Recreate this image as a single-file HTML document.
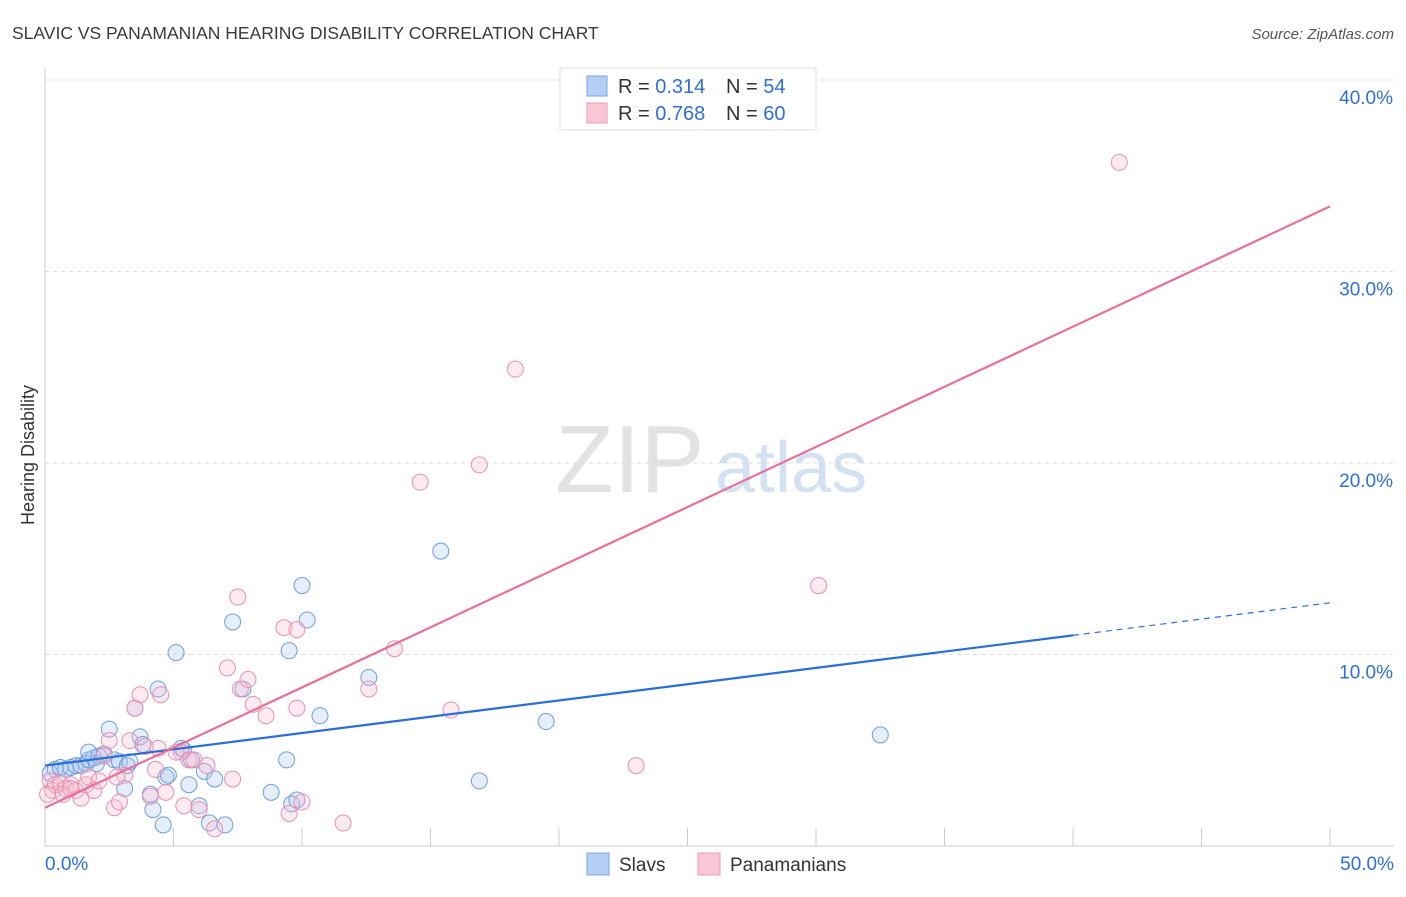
<!DOCTYPE html>
<html><head><meta charset="utf-8"><style>
body{margin:0;background:#fff;font-family:"Liberation Sans",sans-serif;}
svg text{font-family:"Liberation Sans",sans-serif;}
</style></head><body>
<svg id="c" width="1406" height="892" xmlns="http://www.w3.org/2000/svg">
<text x="12" y="39" font-size="17.5" fill="#3a3a3a">SLAVIC VS PANAMANIAN HEARING DISABILITY CORRELATION CHART</text>
<text x="1394" y="39" font-size="15" fill="#555" font-style="italic" text-anchor="end">Source: ZipAtlas.com</text>
<text x="555" y="492" font-size="96" fill="#e2e2e2" font-family="Liberation Serif">ZIP</text>
<text x="715" y="492" font-size="72" fill="#d3e1f3">atlas</text>
<text transform="translate(34,455) rotate(-90)" font-size="18" fill="#333" text-anchor="middle">Hearing Disability</text>
<g id="grid"></g><g id="pts"></g><g id="lines"></g>
<g>
<rect x="560" y="68" width="256" height="62" fill="#fff" stroke="#ddd"/>
<rect x="587" y="76" width="20" height="20" fill="#b6cff5" stroke="#7aa5e6"/>
<rect x="587" y="103" width="20" height="20" fill="#f9c6d6" stroke="#ef9ab5"/>
<text x="618" y="93" font-size="20" fill="#333">R = <tspan fill="#2f6fd6">0.314</tspan></text>
<text x="726" y="93" font-size="20" fill="#333">N = <tspan fill="#2f6fd6">54</tspan></text>
<text x="618" y="120" font-size="20" fill="#333">R = <tspan fill="#2f6fd6">0.768</tspan></text>
<text x="726" y="120" font-size="20" fill="#333">N = <tspan fill="#2f6fd6">60</tspan></text>
</g>
<g>
<rect x="587" y="853" width="22" height="22" fill="#b6cff5" stroke="#7aa5e6"/>
<text x="619" y="871" font-size="19" fill="#333">Slavs</text>
<rect x="698" y="853" width="22" height="22" fill="#f9c6d6" stroke="#ef9ab5"/>
<text x="730" y="871" font-size="19" fill="#333">Panamanians</text>
</g>
</svg>
<script>
const xTicks=[0,5,10,15,20,25,30,35,40,45,50];
const yTicks=[10,20,30,40];
const slavX=[0.2,0.4,0.6,0.8,1.0,1.2,1.4,1.6,1.7,1.9,2.1,2.3,2.5,2.7,2.9,3.1,3.2,3.5,3.7,3.8,4.1,4.2,4.4,4.6,4.7,4.8,5.1,5.3,5.6,5.7,6.2,6.4,6.6,7.0,7.3,7.7,8.8,9.4,9.5,9.6,9.8,10.0,10.2,10.7,12.6,15.4,16.9,19.5,32.5,2.0,1.7,3.3,5.4,6.0];
const slavY=[3.8,4.0,4.1,4.0,4.1,4.2,4.2,4.3,4.5,4.6,4.7,4.8,6.1,4.5,4.4,3.0,4.2,7.2,5.7,5.3,2.7,1.9,8.2,1.1,3.6,3.7,10.1,5.1,3.2,4.5,3.9,1.2,3.5,1.1,11.7,8.2,2.8,4.5,10.2,2.2,2.4,13.6,11.8,6.8,8.8,15.4,3.4,6.5,5.8,4.3,4.9,4.4,5.0,2.1];
const panX=[0.2,0.3,0.4,0.6,0.8,1.0,1.2,1.4,1.6,1.7,1.9,2.1,2.3,2.5,2.7,2.9,3.1,3.3,3.5,3.7,3.9,4.1,4.3,4.4,4.5,4.7,5.3,5.4,5.6,6.0,6.3,6.6,7.1,7.3,7.5,7.6,7.9,8.1,8.6,9.3,9.5,9.8,9.8,10.0,11.6,12.6,13.6,14.6,15.8,16.9,18.3,23.0,30.1,41.8,0.1,0.7,1.0,2.8,5.1,5.8];
const panY=[3.4,2.9,3.2,3.3,3.0,3.2,2.9,2.5,3.2,3.6,2.9,3.4,4.7,5.5,2.0,2.3,3.7,5.5,7.2,7.9,5.2,2.6,4.0,5.1,7.9,2.8,4.9,2.1,4.5,1.9,4.2,0.9,9.3,3.5,13.0,8.2,8.7,7.4,6.8,11.4,1.7,11.3,7.2,2.3,1.2,8.2,10.3,19.0,7.1,19.9,24.9,4.2,13.6,35.7,2.7,2.7,3.0,3.6,4.9,4.5];
const L=45,R=1330,B=846,T=80;
const sx=v=>L+v/50*(R-L), sy=v=>B-v/40*(B-T);
const NS="http://www.w3.org/2000/svg";
function mk(t,a,p){const e=document.createElementNS(NS,t);for(const k in a)e.setAttribute(k,a[k]);p.appendChild(e);return e;}
const g=document.getElementById('grid');
yTicks.forEach(v=>{
 const l=mk('line',{x1:L,x2:1394,y1:sy(v),y2:sy(v),stroke:'#ddd','stroke-dasharray':'4,4'},g);
 
 
 const t=mk('text',{x:1393,y:sy(v)+24,'font-size':19,fill:'#2f6fd6','text-anchor':'end'},g);
 t.textContent=v.toFixed(1)+'%';
 
 
});
mk('line',{x1:L,x2:L,y1:68,y2:B,stroke:'#ccc'},g);
mk('line',{x1:L,x2:1394,y1:B,y2:B,stroke:'#ccc'},g);
xTicks.forEach(v=>{const l=mk('line',{x1:sx(v),x2:sx(v),y1:B,y2:B-18,stroke:'#ccc'},g);
 
 });
[[0,'0.0%','start',45],[50,'50.0%','end',1394]].forEach(a=>{const t=mk('text',{x:a[3],y:870,'font-size':19,fill:'#2f6fd6','text-anchor':a[2]},g);t.textContent=a[1];
 
 });
const p=document.getElementById('pts');
function dots(xs,ys,fill,st,name){xs.forEach((x,i)=>{const c=mk('circle',{cx:sx(x),cy:sy(ys[i]),r:8,fill:fill,'fill-opacity':0.3,stroke:st,'stroke-width':1},p);
 
 });}
dots(slavX,slavY,'#a9c6f2','#6f9de0','slav-point');
dots(panX,panY,'#f7bcd0','#ec8fb0','panamanian-point');
const ln=document.getElementById('lines');
const b1=mk('line',{x1:sx(0),y1:sy(4.2),x2:sx(40),y2:sy(11.0),stroke:'#2a6fd8','stroke-width':2.2},ln);


const b2=mk('line',{x1:sx(40),y1:sy(11.0),x2:sx(50),y2:sy(12.7),stroke:'#2a6fd8','stroke-width':1.2,'stroke-dasharray':'6,5'},ln);


const p1=mk('line',{x1:sx(0),y1:sy(2.0),x2:sx(50),y2:sy(33.4),stroke:'#e8709a','stroke-width':2.2},ln);


</script>
</body></html>
